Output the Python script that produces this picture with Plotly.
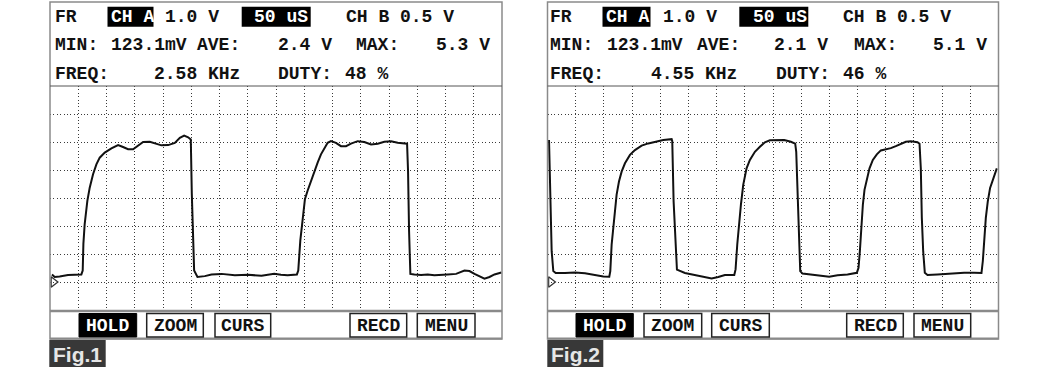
import plotly.graph_objects as go

W, H = 1050, 367

# ---------------- data (time in microseconds, 50 uS/div; voltage in V, 1 V/div) ----------------
fig1_t = [3.5, 8.3, 17.1, 31.9, 55.5, 57.9, 59.1, 61.4, 66.1, 70.3, 76.2, 82.1, 88.0, 96.9,
          108.7, 120.5, 129.3, 138.2, 147.1, 154.7, 164.8, 176.6, 188.4, 197.3, 209.1, 220.9,
          229.8, 237.4, 244.5, 249.2, 251.0, 252.8, 255.1, 261.0, 274.0, 285.8, 303.6, 327.2,
          350.8, 374.4, 396.9, 408.7, 420.5, 437.0, 439.4, 443.0, 447.1, 451.2, 455.9, 461.8,
          467.8, 473.7, 479.6, 485.5, 491.4, 497.3, 506.1, 515.0, 523.9, 532.7, 544.5, 556.3,
          568.2, 580.0, 591.8, 603.6, 615.4, 632.0, 633.7, 635.5, 637.8, 644.9, 656.7, 668.5,
          680.4, 704.0, 718.8, 733.5, 742.4, 751.3, 760.1, 769.0, 777.8, 786.7, 799.0]
fig1_v = [0.27, 0.18, 0.20, 0.25, 0.27, 0.41, 1.36, 2.07, 2.90, 3.37, 3.85, 4.20, 4.44, 4.62,
          4.77, 4.89, 4.82, 4.74, 4.74, 4.85, 5.00, 5.01, 4.94, 4.88, 4.89, 4.97,
          5.15, 5.23, 5.17, 5.09, 3.14, 1.72, 0.41, 0.18, 0.21, 0.27, 0.29, 0.24,
          0.26, 0.22, 0.29, 0.26, 0.24, 0.27, 0.41, 1.48, 2.31, 2.96, 3.26, 3.61,
          3.97, 4.26, 4.56, 4.79, 4.97, 5.03, 4.97, 4.85, 4.85, 4.94, 5.03, 5.00,
          4.91, 4.94, 5.01, 5.03, 4.97, 4.94, 3.97, 1.83, 0.29, 0.27, 0.25, 0.27,
          0.24, 0.27, 0.29, 0.41, 0.39, 0.29, 0.20, 0.12, 0.18, 0.27, 0.34]

fig2_t = [2.7, 5.0, 7.4, 10.3, 14.5, 31.0, 48.8, 66.5, 84.2, 99.0, 109.6, 111.4, 113.8, 116.7,
          119.7, 122.6, 126.8, 131.5, 137.4, 146.3, 155.1, 167.0, 178.8, 190.6, 205.4, 220.2,
          221.3, 223.7, 227.3, 229.6, 243.8, 261.5, 279.2, 291.1, 302.9, 314.7, 331.3, 333.6,
          336.6, 339.5, 343.1, 347.2, 353.1, 359.0, 367.9, 376.8, 385.6, 394.5, 419.9, 431.7,
          439.4, 441.2, 442.9, 445.3, 448.3, 452.4, 467.2, 484.9, 499.7, 514.5, 532.2, 548.7,
          551.7, 554.1, 556.4, 559.4, 562.3, 566.5, 571.2, 577.1, 584.2, 591.3, 600.2, 609.0,
          617.9, 626.8, 635.6, 644.5, 656.3, 659.9, 662.2, 664.0, 666.4, 669.3, 674.1, 691.8,
          715.4, 739.1, 756.8, 769.8, 772.2, 774.5, 777.5, 781.0, 785.1, 791.1, 797.0]
fig2_v = [5.07, 3.47, 1.10, 0.39, 0.32, 0.32, 0.34, 0.31, 0.24, 0.20, 0.19, 0.39, 1.34, 1.93,
          2.52, 3.12, 3.59, 3.94, 4.24, 4.54, 4.71, 4.87, 4.95, 5.01, 5.07, 5.10,
          5.03, 2.88, 1.10, 0.44, 0.32, 0.24, 0.18, 0.13, 0.18, 0.25, 0.25, 0.45,
          1.34, 2.05, 2.76, 3.47, 4.06, 4.36, 4.65, 4.83, 4.99, 5.06, 5.07, 5.01,
          4.94, 4.65, 3.47, 1.69, 0.39, 0.30, 0.27, 0.24, 0.19, 0.24, 0.27, 0.33,
          0.51, 1.10, 1.93, 2.76, 3.29, 3.71, 4.06, 4.36, 4.56, 4.70, 4.74, 4.78,
          4.85, 4.94, 5.01, 5.03, 4.99, 4.94, 4.06, 2.29, 1.10, 0.33, 0.25, 0.27,
          0.31, 0.33, 0.33, 0.32, 0.75, 1.58, 2.29, 2.88, 3.36, 3.71, 4.06]

# readout texts
fig1_readout = {"ave": "2.4 V", "max": "5.3 V", "freq": "2.58 KHz", "duty": "48 %"}
fig2_readout = {"ave": "2.1 V", "max": "5.1 V", "freq": "4.55 KHz", "duty": "46 %"}
buttons = ["HOLD", "ZOOM", "CURS", "RECD", "MENU"]
fig_labels = ["Fig.1", "Fig.2"]

T_RANGE = [0, 800]
V_RANGE = [-1, 7]

# ---------------- layout helpers ----------------
def px(x):
    return x / W


def py(y):
    return 1 - y / H


PLOT_TOP, PLOT_BOT = 86, 310
MONO = "Liberation Mono"

fig = go.Figure()
shapes = []
annos = []


def rect(x0, y0, x1, y1, fill=None, line="#888", lw=1.5):
    shapes.append(dict(type="rect", xref="paper", yref="paper",
                       x0=px(x0), x1=px(x1), y0=py(y1), y1=py(y0),
                       fillcolor=fill if fill else "rgba(0,0,0,0)",
                       line=dict(color=line, width=lw), layer="above"))


def hline(x0, x1, y, color="#888", lw=1.5):
    shapes.append(dict(type="line", xref="paper", yref="paper",
                       x0=px(x0), x1=px(x1), y0=py(y), y1=py(y),
                       line=dict(color=color, width=lw), layer="above"))


def text(x, y, s, color="#111", size=18, anchor="left", family=MONO):
    annos.append(dict(xref="paper", yref="paper", x=px(x), y=py(y), text="<b>" + s + "</b>",
                      showarrow=False, xanchor=anchor, yanchor="middle",
                      font=dict(family=family, size=size, color=color)))


def panel(idx, left, right, t, v, ro, pos):
    # plot axes
    xa = "xaxis" if idx == 1 else "xaxis2"
    ya = "yaxis" if idx == 1 else "yaxis2"
    axis_common = dict(showticklabels=False, ticks="", zeroline=False, showline=False,
                       showgrid=True, gridcolor="#3a3a3a", gridwidth=1.1, griddash="1px,2.4px",
                       fixedrange=True)
    fig.update_layout(**{
        xa: dict(domain=[px(left), px(right)], range=T_RANGE, dtick=50, tick0=0,
                 anchor="y" if idx == 1 else "y2", **axis_common),
        ya: dict(domain=[py(PLOT_BOT), py(PLOT_TOP)], range=V_RANGE, dtick=1, tick0=-1,
                 anchor="x" if idx == 1 else "x2", **axis_common),
    })
    xr = "x" if idx == 1 else "x2"
    yr = "y" if idx == 1 else "y2"
    fig.add_trace(go.Scatter(x=t, y=v, mode="lines", xaxis=xr, yaxis=yr,
                             line=dict(color="#111", width=2), hoverinfo="skip",
                             showlegend=False))
    fig.add_trace(go.Scatter(x=[6], y=[0], mode="markers", xaxis=xr, yaxis=yr,
                             marker=dict(symbol="triangle-right-open", size=9,
                                         color="#333", line=dict(width=1.3)),
                             hoverinfo="skip", showlegend=False))

    # frame
    rect(left, 2, right, 339, line="#8a8a8a", lw=1.5)
    hline(left, right, PLOT_TOP, color="#555", lw=1)
    hline(left, right, PLOT_BOT + 1, color="#8a8a8a", lw=2.5)
    hline(left, right, 338.5, color="#8a8a8a", lw=2)

    # header
    r1, r2, r3 = 16.5, 45, 74
    text(pos["fr"], r1, "FR")
    rect(pos["cha_box"][0], 6.7, pos["cha_box"][1], 26.7, fill="#000", line="#000", lw=0)
    text(pos["cha"], r1, "CH A", color="#fff")
    text(pos["v1"], r1, "1.0 V")
    rect(pos["tb_box"][0], 6.7, pos["tb_box"][1], 26.7, fill="#000", line="#000", lw=0)
    text(pos["tb"], r1, "50 uS", color="#fff")
    text(pos["chb"], r1, "CH B 0.5 V")

    text(pos["fr"], r2, "MIN:")
    text(pos["min"], r2, "123.1mV")
    text(pos["avel"], r2, "AVE:")
    text(pos["ave"], r2, ro["ave"])
    text(pos["maxl"], r2, "MAX:")
    text(pos["max"], r2, ro["max"])

    text(pos["fr"], r3, "FREQ:")
    text(pos["freq"], r3, ro["freq"])
    text(pos["dutyl"], r3, "DUTY:")
    text(pos["duty"], r3, ro["duty"])

    # buttons
    for i, (b0, b1) in enumerate(pos["buttons"]):
        if i == 0:
            rect(b0, 313.5, b1, 337, fill="#000", line="#000", lw=1)
            text((b0 + b1) / 2, 326, buttons[i], color="#fff", anchor="center")
        else:
            rect(b0, 313.5, b1, 337, fill="#fff", line="#222", lw=1.5)
            text((b0 + b1) / 2, 326, buttons[i], anchor="center")

    # figure label
    lb0, lb1 = pos["label"]
    rect(lb0, 340, lb1, 368, fill="#383838", line="#383838", lw=0)
    text((lb0 + lb1) / 2, 354, fig_labels[idx - 1], color="#e6e6e6", size=21,
         anchor="center", family="Liberation Sans")


pos1 = dict(fr=53, cha_box=(107.5, 153.5), cha=108.5, v1=163, tb_box=(241.7, 310.7), tb=252,
            chb=344, min=109, avel=195, ave=275.7, maxl=354, max=434, freq=152, dutyl=276,
            duty=343,
            buttons=[(79, 136.7), (146.7, 203.3), (215, 270.7), (350, 406.7), (417.3, 475)],
            label=(49.3, 105.7))
pos2 = dict(fr=548.3, cha_box=(602.5, 650.5), cha=603.7, v1=660.7, tb_box=(739.3, 808.3), tb=750.7,
            chb=840.7, min=605, avel=695, ave=772.3, maxl=852.3, max=930.7, freq=649, dutyl=774,
            duty=840.7,
            buttons=[(576, 633.3), (644, 701.7), (711.7, 769.3), (846.7, 903.3), (914, 970.7)],
            label=(547.3, 603.3))

panel(1, 50, 502, fig1_t, fig1_v, fig1_readout, pos1)
panel(2, 547.5, 998.5, fig2_t, fig2_v, fig2_readout, pos2)

fig.update_layout(width=W, height=H, margin=dict(l=0, r=0, t=0, b=0),
                  paper_bgcolor="#fff", plot_bgcolor="#fff",
                  shapes=shapes, annotations=annos, showlegend=False)

fig.write_html("out.html", config={"displayModeBar": False})
